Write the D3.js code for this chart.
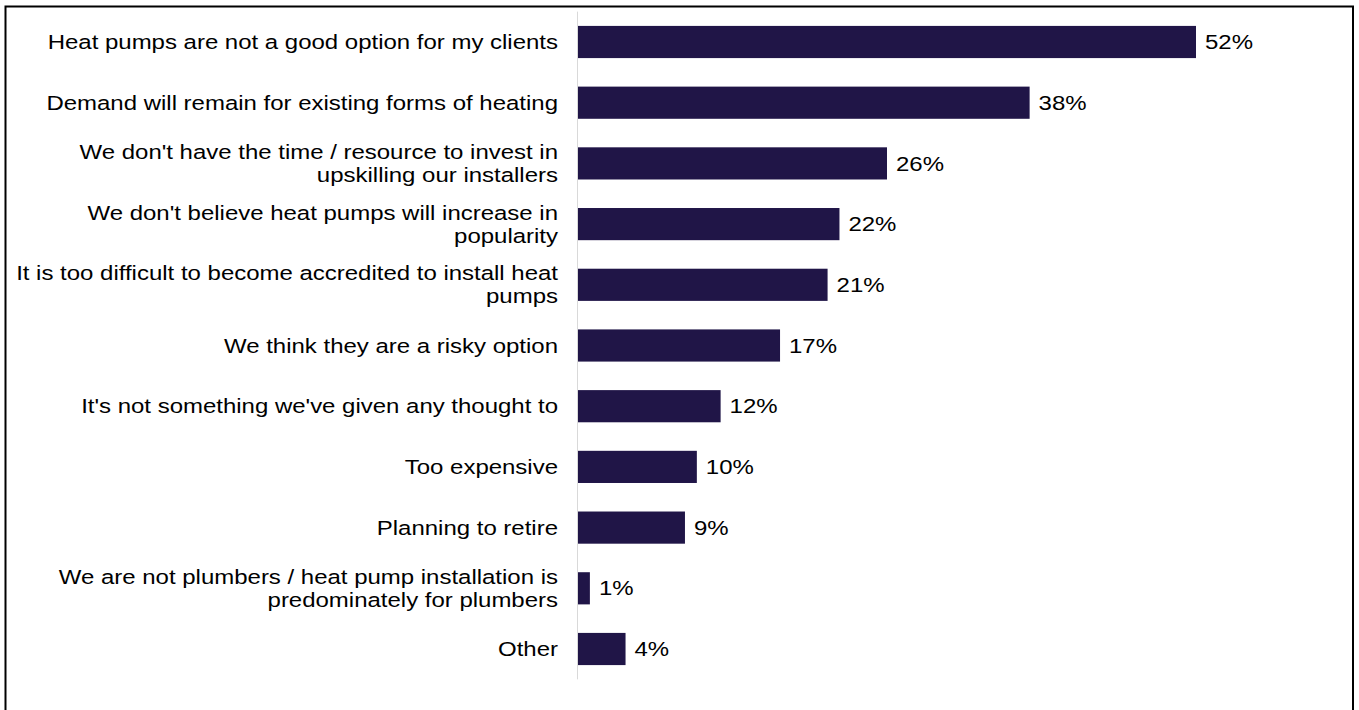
<!DOCTYPE html>
<html>
<head>
<meta charset="utf-8">
<script src="https://cdn.jsdelivr.net/npm/d3@7"></script>
<style>
  html, body { margin: 0; padding: 0; background: #fff; }
  svg { display: block; }
</style>
</head>
<body>
<svg id="chart" width="1359" height="710"></svg>
<script>
// Reasons for not installing heat pumps
const categories = [
  "Heat pumps are not a good option for my clients",
  "Demand will remain for existing forms of heating",
  "We don't have the time / resource to invest in upskilling our installers",
  "We don't believe heat pumps will increase in popularity",
  "It is too difficult to become accredited to install heat pumps",
  "We think they are a risky option",
  "It's not something we've given any thought to",
  "Too expensive",
  "Planning to retire",
  "We are not plumbers / heat pump installation is predominately for plumbers",
  "Other"
];
const values = [52, 38, 26, 22, 21, 17, 12, 10, 9, 1, 4];

const barColor = "#201547";
const fontFamily = "Arial, 'Liberation Sans', sans-serif";
const fontSize = 20.5;
const stretch = 1.17; // wide lettering: horizontal scale applied to all text

const svg = d3.select("#chart");

// outer frame
svg.append("rect")
  .attr("x", 5.5).attr("y", 6.5)
  .attr("width", 1347.5).attr("height", 720)
  .attr("fill", "none").attr("stroke", "#000").attr("stroke-width", 2);

const x = d3.scaleLinear().domain([0, 60]).range([578, 578 + 618 / 52 * 60]);
const y = d3.scaleBand().domain(categories).range([11.65, 679.35]).paddingInner(0.47).paddingOuter(0.235);

// baseline axis
svg.append("line")
  .attr("x1", 577.5).attr("x2", 577.5)
  .attr("y1", y.range()[0]).attr("y2", y.range()[1])
  .attr("stroke", "#d9d9d9").attr("stroke-width", 1);

// bars
svg.append("g").selectAll("rect")
  .data(categories)
  .join("rect")
  .attr("x", x(0))
  .attr("y", d => y(d))
  .attr("width", (d, i) => x(values[i]) - x(0))
  .attr("height", y.bandwidth())
  .attr("fill", barColor);

// value labels
svg.append("g").selectAll("text")
  .data(categories)
  .join("text")
  .attr("transform", (d, i) => `translate(${x(values[i]) + 9},${y(d) + y.bandwidth() / 2}) scale(${stretch},1)`)
  .attr("dy", "0.35em")
  .attr("font-family", fontFamily)
  .attr("font-size", fontSize)
  .attr("fill", "#000")
  .text((d, i) => values[i] + "%");

// category labels, word-wrapped to the label column width
const maxWidth = 548;
const measure = svg.append("text")
  .attr("font-family", fontFamily).attr("font-size", fontSize)
  .attr("visibility", "hidden");
function wrap(str) {
  const words = str.split(" ");
  const lines = [];
  let cur = "";
  words.forEach(w => {
    const test = cur ? cur + " " + w : w;
    measure.text(test);
    if (measure.node().getComputedTextLength() * stretch > maxWidth && cur) {
      lines.push(cur);
      cur = w;
    } else {
      cur = test;
    }
  });
  if (cur) lines.push(cur);
  return lines;
}

const lineHeight = 23;
const labels = svg.append("g");
categories.forEach(c => {
  const lines = wrap(c);
  const cy = y(c) + y.bandwidth() / 2;
  const t = labels.append("text")
    .attr("transform", `translate(558,${cy}) scale(${stretch},1)`)
    .attr("text-anchor", "end")
    .attr("font-family", fontFamily)
    .attr("font-size", fontSize)
    .attr("fill", "#000");
  lines.forEach((ln, k) => {
    t.append("tspan")
      .attr("x", 0)
      .attr("y", (k - (lines.length - 1) / 2) * lineHeight)
      .attr("dy", "0.35em")
      .text(ln);
  });
});
measure.remove();
</script>
</body>
</html>
